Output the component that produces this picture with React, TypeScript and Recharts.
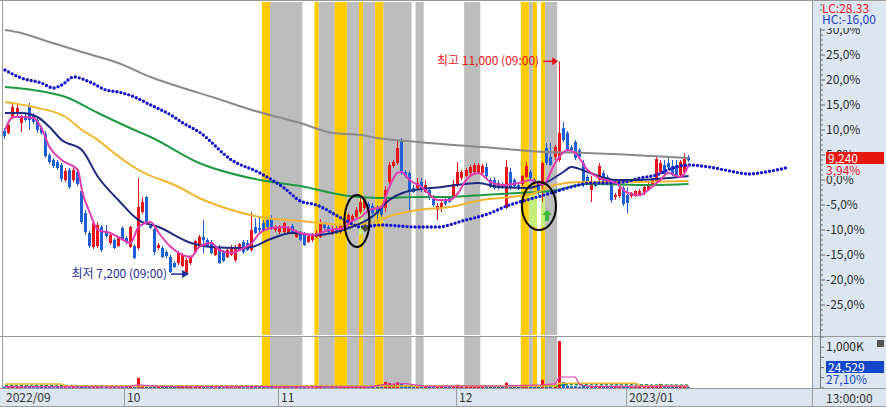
import React from "react";
import {
  Bar,
  ComposedChart,
  Line,
  ReferenceArea,
  ReferenceDot,
  XAxis,
  YAxis,
} from "recharts";

// price bars are stored as % change vs. the reference price (the chart's own right axis)
type Ohlc = [number, number, number, number]; // open, high, low, close
type Pt = [number, number]; // bar slot, value

const sepBars: Ohlc[] = [
  [9.8, 10.4, 8.2, 8.8], [9.4, 11.6, 9.2, 11.0], [12.4, 15.6, 12.2, 14.6], [13.2, 15.2, 12.8, 14.4], [11.4, 13.0, 9.6, 12.4],
  [12.8, 13.6, 11.6, 12.0], [14.8, 15.4, 10.0, 12.0], [12.8, 13.4, 11.2, 11.6], [12.0, 12.6, 9.4, 10.0], [10.4, 10.8, 9.0, 9.4],
  [9.2, 9.8, 4.4, 4.8], [5.0, 5.4, 3.2, 3.6], [4.0, 4.4, 2.4, 2.8], [3.6, 4.0, 2.0, 2.4], [3.0, 3.4, -0.4, 0.2],
  [0.0, 2.4, -0.4, 1.8], [2.0, 2.4, -1.8, -1.4], [0.0, 2.4, -0.4, 2.0], [1.6, 2.0, -1.2, -0.8], [-2.2, -1.6, -8.8, -8.4],
  [-6.6, -6.0, -11.0, -10.4], [-10.6, -10.2, -13.6, -13.2], [-13.4, -8.2, -13.8, -8.6], [-13.2, -8.4, -13.6, -9.0], [-9.4, -9.0, -14.4, -14.0],
  [-10.2, -9.0, -11.6, -11.2], [-12.6, -10.8, -13.0, -11.0], [-12.0, -11.6, -13.8, -13.6], [-13.2, -11.2, -13.4, -11.4], [-9.6, -9.2, -12.0, -11.8],
];

const octBars: Ohlc[] = [
  [-11.6, -11.2, -12.8, -12.4], [-13.4, -9.2, -13.6, -9.4], [-13.2, -12.8, -15.8, -15.6], [-13.6, 0.4, -14.0, -5.4], [-6.4, -3.4, -6.8, -4.4],
  [-3.4, -3.2, -9.0, -8.6], [-9.2, -9.0, -9.8, -9.6], [-9.8, -9.6, -15.0, -14.4], [-13.6, -12.6, -14.0, -13.0], [-13.6, -13.2, -15.6, -15.4],
  [-14.4, -14.0, -15.6, -15.2], [-15.4, -15.0, -18.6, -18.4], [-16.6, -16.2, -17.6, -17.4], [-16.6, -14.2, -17.0, -14.6], [-17.2, -14.6, -17.4, -15.0],
  [-18.6, -15.6, -19.01, -16.0], [-16.6, -15.0, -17.0, -15.6], [-14.4, -12.0, -14.6, -12.2], [-13.4, -11.0, -13.6, -11.4], [-11.4, -8.0, -14.6, -12.0],
  [-12.0, -11.6, -13.4, -13.2], [-12.4, -12.0, -14.8, -14.6], [-15.0, -13.2, -15.2, -13.6], [-13.6, -13.0, -16.8, -16.6], [-14.4, -14.0, -16.4, -16.2],
  [-15.4, -13.6, -15.6, -14.0], [-15.0, -13.0, -15.2, -13.4], [-16.0, -13.0, -16.4, -13.4], [-14.0, -12.6, -14.2, -12.8], [-12.4, -12.0, -14.8, -14.4],
  [-12.6, -12.0, -14.2, -14.0], [-14.0, -6.4, -14.4, -10.0], [-9.4, -7.6, -10.8, -10.6], [-9.6, -7.6, -10.4, -10.0], [-8.6, -8.0, -10.4, -10.2],
  [-8.0, -7.6, -9.6, -9.4], [-7.6, -7.0, -10.0, -9.6], [-10.0, -9.0, -10.4, -9.4],
];

const novBars: Ohlc[] = [
  [-10.4, -9.0, -10.8, -9.4], [-10.4, -8.4, -10.6, -8.6], [-10.6, -9.2, -10.8, -9.6], [-9.2, -8.8, -10.8, -10.6], [-11.4, -10.0, -11.6, -10.4],
  [-10.6, -10.2, -12.2, -12.0], [-10.8, -10.4, -13.2, -13.0], [-12.4, -10.8, -12.6, -11.2], [-12.0, -10.6, -12.4, -11.0], [-11.4, -10.0, -11.6, -10.6],
  [-11.4, -7.8, -11.6, -8.4], [-8.8, -8.4, -10.0, -9.6], [-9.4, -9.0, -10.8, -10.4], [-10.6, -9.2, -11.0, -9.8], [-9.6, -9.2, -10.8, -10.6],
  [-10.4, -8.8, -10.8, -9.2], [-10.0, -8.0, -10.2, -8.4], [-9.0, -6.6, -9.4, -7.0], [-8.0, -6.8, -8.4, -7.2], [-7.4, -5.4, -7.6, -6.0],
  [-6.4, -3.6, -6.8, -4.4], [-5.6, -3.2, -6.0, -3.8], [-4.8, -4.4, -6.8, -6.4], [-5.2, -4.6, -7.0, -6.6], [-5.8, -5.0, -8.4, -6.8],
  [-5.6, -5.0, -7.4, -7.0], [-5.6, -1.2, -6.4, -2.0], [-0.4, 3.6, -0.8, 3.0], [2.8, 4.0, 2.4, 3.6], [3.4, 8.0, 3.0, 6.4],
  [7.8, 8.4, 1.0, 1.4], [1.6, 2.0, 0.4, 0.8], [1.4, 1.8, -6.4, -2.0], [-1.6, -1.0, -2.6, -2.4], [-1.6, 0.4, -2.0, -0.6],
  [-0.4, 0.4, -2.4, -2.0], [-2.4, 0.0, -2.6, -1.0], [-2.0, -1.6, -4.0, -3.6], [-3.8, -3.0, -5.4, -5.0], [-6.0, -4.6, -8.0, -5.2],
  [-5.6, -4.0, -6.4, -4.6], [-3.8, -3.2, -5.2, -4.8], [-3.6, -3.2, -4.6, -4.4], [-3.4, 0.0, -3.6, -0.8],
];

const decBars: Ohlc[] = [
  [-1.0, 3.6, -1.4, 1.6], [0.4, 2.0, 0.0, 1.6], [0.8, 2.4, 0.6, 2.0], [1.4, 3.0, 1.0, 2.6], [1.6, 3.4, 1.2, 3.0],
  [1.4, 3.4, 1.2, 3.0], [1.4, 3.2, 1.0, 2.8], [2.6, 3.4, 0.4, 0.8], [0.0, 0.4, -1.6, -1.4], [0.0, 0.6, -2.0, -1.6],
  [-0.6, 0.0, -2.0, -1.6], [-0.8, -0.4, -1.8, -1.4], [-5.6, 4.0, -5.8, 2.6], [1.6, 2.4, -2.0, -1.6], [0.0, 0.4, -1.6, -1.2],
  [-1.0, -0.6, -2.0, -1.6], [-0.8, 1.0, -1.2, 0.8], [0.6, 3.6, 0.4, 2.8], [1.6, 2.0, 0.0, 0.4], [0.0, 0.4, -0.6, -0.4],
  [-0.6, 0.0, -3.0, -2.6], [-1.0, 3.6, -4.4, 3.4], [6.4, 7.4, 3.0, 3.4], [4.6, 7.4, 2.8, 3.0], [4.6, 7.0, 4.0, 6.6],
  [4.0, 23.73, 3.6, 9.4], [10.4, 11.6, 7.6, 8.0], [9.4, 9.8, 5.4, 6.0], [6.6, 7.0, 5.8, 6.0], [7.6, 8.0, 4.0, 4.4],
  [6.0, 6.4, 4.4, 4.6], [3.4, 4.0, -1.4, -0.6], [0.6, 1.0, -0.6, -0.4], [-2.0, 0.8, -4.4, -0.4], [-0.6, -0.2, -1.4, -1.2],
  [0.0, 3.4, -0.4, 2.8], [1.4, 2.0, -0.6, -0.4], [0.6, 1.0, -0.6, -0.2], [-0.4, 0.0, -4.6, -4.0], [-3.4, -2.6, -4.0, -3.0],
  [-3.2, -1.4, -3.6, -1.8], [-1.6, -1.2, -5.2, -4.8],
];

const janBars: Ohlc[] = [
  [-3.0, -1.4, -6.6, -4.6], [-3.2, -2.4, -3.6, -2.6], [-3.2, -2.0, -3.4, -2.2], [-3.0, -1.8, -3.2, -2.2], [-2.6, -1.2, -3.0, -1.4],
  [-2.0, -0.4, -2.2, -0.8], [-1.2, 0.4, -1.4, 0.0], [-0.2, 4.8, -0.6, 4.2], [1.6, 4.0, 1.2, 3.4], [3.0, 4.0, 0.8, 1.2],
  [3.4, 4.4, 2.0, 2.6], [2.8, 4.0, 0.8, 1.0], [3.0, 4.0, 0.4, 0.6], [1.0, 4.0, 0.6, 3.6], [1.6, 5.4, 1.2, 4.4],
  [4.6, 5.0, 3.6, 3.94],
];

// volume per bar, thousands of shares
const volumes = [
  35, 30, 45, 40, 30, 25, 50, 30, 30, 25, 60, 40, 35, 30, 45, 30, 40, 25, 35, 60, 55, 45, 40, 35, 40, 25, 20, 25, 20, 30,
  25, 30, 25, 250, 70, 45, 30, 40, 25, 30, 25, 40, 30, 25, 30, 35, 25, 30, 25, 30, 20, 25, 20, 25, 20, 25, 20, 20, 25, 20, 20, 65, 30, 25, 20, 20, 25, 20,
  20, 25, 20, 20, 25, 20, 25, 20, 20, 20, 30, 20, 20, 20, 25, 25, 30, 40, 30, 30, 45, 45, 30, 30, 35, 30, 150, 120, 90, 140, 110, 60, 70, 40, 35, 30, 30, 35, 30, 30, 25, 25, 25, 30,
  80, 40, 35, 30, 30, 30, 30, 30, 30, 25, 25, 25, 130, 50, 30, 25, 40, 45, 30, 25, 30, 200, 90, 70, 60, 1150, 150, 60, 40, 45, 35, 50, 40, 30, 35, 30, 45, 30, 25, 25, 25, 30,
  30, 25, 25, 25, 30, 30, 35, 60, 100, 40, 35, 30, 30, 40, 45, 25,
];

const ma5Pts: Pt[] = [
  [0, 10.0], [2, 12.6], [4, 12.6], [7, 12.4], [9, 10.4], [11, 6.6], [14, 4.0], [18, 2.0], [19, -2.0], [21, -6.6],
  [23, -10.0], [26, -10.6], [28, -11.4], [31, -12.6], [33, -9.4], [36, -8.4], [38, -10.6], [41, -13.4], [43, -14.6], [46, -15.4],
  [48, -13.4], [51, -12.6], [53, -14.0], [56, -14.6], [58, -14.0], [61, -12.6], [63, -10.6], [66, -9.6], [69, -9.4], [73, -10.6],
  [76, -11.0], [80, -10.0], [84, -9.6], [85, -8.6], [88, -7.4], [90, -6.0], [93, -5.4], [95, -1.4], [97, 1.4], [98, 1.6],
  [100, 0.0], [103, -1.4], [107, -4.0], [110, -4.0], [112, -2.6], [114, 0.0], [117, 1.4], [118, 1.0], [120, -0.4], [123, -1.0],
  [127, -0.6], [130, 0.0], [133, -1.0], [136, 3.4], [139, 6.0], [141, 5.4], [144, 2.0], [147, 0.4], [151, -0.6], [154, -2.6],
  [157, -3.0], [159, -2.0], [162, 0.0], [164, 1.4], [167, 0.6], [169, 3.0],
];

const ma20Pts: Pt[] = [
  [0, 13.4], [4, 13.4], [8, 12.6], [11, 10.6], [14, 8.0], [19, 6.0], [23, 0.6], [28, -4.0], [33, -8.0], [38, -9.4],
  [46, -12.6], [51, -13.4], [58, -13.6], [61, -13.4], [65, -12.0], [71, -10.6], [77, -11.0], [85, -9.6], [91, -7.2], [95, -4.0],
  [99, -2.4], [108, -1.4], [117, -0.6], [122, -1.4], [129, -1.6], [134, -0.4], [138, 1.6], [140, 2.6], [144, 1.6], [151, 0.0],
  [157, 0.0], [164, 0.4], [169, 0.8],
];

const ma60Pts: Pt[] = [
  [0, 15.6], [7, 14.6], [15, 12.6], [19, 10.0], [23, 8.0], [26, 6.0], [33, 2.0], [43, -1.4], [48, -3.6], [56, -6.0],
  [63, -7.4], [73, -8.2], [85, -9.0], [90, -8.6], [96, -7.0], [102, -6.0], [110, -5.4], [118, -4.0], [125, -3.4], [131, -2.6],
  [136, -1.0], [142, -0.4], [152, -0.4], [169, -0.2],
];

const ma120Pts: Pt[] = [
  [0, 18.6], [7, 18.0], [15, 16.6], [23, 13.4], [32, 10.0], [36, 8.6], [48, 3.4], [63, 0.0], [73, -1.2], [85, -3.2],
  [93, -3.6], [102, -3.4], [110, -3.4], [118, -3.0], [127, -2.6], [135, -2.2], [144, -0.8], [160, -1.0], [169, -0.8],
];

const ma240Pts: Pt[] = [
  [0, 30.0], [4, 29.4], [11, 27.6], [19, 25.6], [28, 23.4], [36, 20.6], [44, 18.4], [52, 16.4], [61, 14.0], [73, 11.4],
  [81, 9.4], [88, 9.0], [92, 8.4], [102, 7.6], [118, 6.6], [134, 5.6], [144, 5.4], [160, 4.8], [169, 4.4],
];

// blue dotted indicator, runs past the last bar
const signalPts: Pt[] = [
  [0, 22.0], [4, 20.4], [9, 19.4], [12, 18.4], [14, 19.0], [17, 20.6], [21, 19.6], [25, 18.0], [28, 17.6], [32, 16.6],
  [36, 15.0], [41, 13.0], [44, 11.4], [48, 9.6], [56, 4.0], [63, 1.4], [69, -1.6], [73, -4.2], [77, -5.0], [84, -8.0],
  [88, -9.4], [93, -9.0], [102, -9.4], [107, -9.4], [113, -8.2], [120, -6.6], [124, -5.2], [129, -4.0], [135, -2.6], [140, -1.4],
  [145, -0.6], [149, -0.6], [153, -0.4], [157, 0.4], [161, 1.0], [165, 2.4], [169, 3.0], [174, 2.6], [178, 2.0], [184, 1.2],
  [188, 1.6], [193, 2.4],
];

const volMa5Pts: Pt[] = [
  [0, 35], [30, 30], [33, 80], [38, 40], [90, 30], [94, 90], [99, 110], [104, 40], [112, 45], [124, 50],
  [133, 80], [136, 100], [137, 270], [141, 270], [142, 80], [145, 40], [169, 45],
];
const volMa20Pts: Pt[] = [[0, 95], [14, 95], [15, 50], [136, 50], [137, 115], [156, 115], [157, 50], [169, 50]];
const volMa60Pts: Pt[] = [[0, 60], [50, 55], [136, 40], [138, 80], [169, 75]];

const yellowBands: Pt[] = [[64, 65], [77, 77], [82, 84], [88, 88], [92, 93], [128, 129], [131, 131], [133, 133]];
const grayBands: Pt[] = [[66, 73], [78, 81], [85, 87], [89, 91], [94, 100], [102, 103], [114, 117], [130, 130], [134, 136]];

const monthTicks = [0, 30, 68, 112, 154];
const monthLabels = ["2022/09", "10", "11", "12", "2023/01"];
const pctLabels = [-25, -20, -15, -10, -5, 0, 5, 10, 15, 20, 25, 30];
const volTicks = [0, 250, 500, 750, 1000, 1250];

const SLOTS = 200;
const UP = "#e8141c";
const DOWN = "#1f5fd6";
const AXIS_BG = "#dce6f0";
const FRAME = "#9a9a9a";
const FONT = '"Noto Sans CJK KR", "Noto Sans", sans-serif';

const bars = [...sepBars, ...octBars, ...novBars, ...decBars, ...janBars];
const lookup = (pts: Pt[]) => new Map(pts);
const series = {
  ma5: lookup(ma5Pts),
  ma20: lookup(ma20Pts),
  ma60: lookup(ma60Pts),
  ma120: lookup(ma120Pts),
  ma240: lookup(ma240Pts),
  signal: lookup(signalPts),
  vma5: lookup(volMa5Pts),
  vma20: lookup(volMa20Pts),
  vma60: lookup(volMa60Pts),
};

const rows = Array.from({ length: SLOTS }, (_, i) => {
  const b = bars[i];
  const row: any = { idx: i };
  if (b) {
    row.o = b[0];
    row.h = b[1];
    row.l = b[2];
    row.c = b[3];
    row.range = [b[2], b[1]];
    row.vol = volumes[i];
  }
  for (const [k, m] of Object.entries(series)) row[k] = m.has(i) ? m.get(i) : null;
  return row;
});

const pctMinorTicks = Array.from({ length: 66 }, (_, k) => k - 30);
const fmtPct = (v: number) => `${v.toFixed(1).replace(".", ",")}%`;

function Candle(props: any) {
  const { x, y, width, height, payload } = props;
  if (!payload || payload.o == null) return null;
  const { o, h, l, c } = payload;
  const top = Math.min(y, y + height);
  const hgt = Math.abs(height);
  const span = h - l || 1;
  const py = (v: number) => top + ((h - v) / span) * hgt;
  const cx = Math.floor(x + width / 2);
  const color = c >= o ? UP : DOWN;
  const bTop = py(Math.max(o, c));
  const bBot = py(Math.min(o, c));
  return (
    <g>
      <line x1={cx + 0.5} x2={cx + 0.5} y1={top} y2={top + hgt} stroke={color} strokeWidth={1} />
      <rect x={cx - 1} y={bTop} width={3} height={Math.max(1, bBot - bTop)} fill={color} />
    </g>
  );
}

function VolBar(props: any) {
  const { x, y, width, height, payload } = props;
  if (!payload || payload.o == null) return null;
  const cx = Math.floor(x + width / 2);
  return <rect x={cx - 1} y={y} width={3} height={Math.max(1, height)} fill={payload.c >= payload.o ? UP : DOWN} />;
}

function PctTick({ x, y, payload }: any) {
  const v = payload.value;
  const major = pctLabels.includes(v);
  return (
    <g>
      <line x1={x + 8} x2={x + (major ? 13 : 11)} y1={y} y2={y} stroke="#666" />
      {major && (
        <text x={x + 14} y={y + 4} fontSize={12} fill="#2a2a2a" fontFamily={FONT}>
          {fmtPct(v)}
        </text>
      )}
    </g>
  );
}

function VolTick({ x, y, payload }: any) {
  const v = payload.value;
  return (
    <g>
      <line x1={x + 8} x2={x + 12} y1={y} y2={y} stroke="#666" />
      {v === 1000 && (
        <text x={x + 14} y={y + 4} fontSize={12} fill="#2a2a2a" fontFamily={FONT}>
          1,000K
        </text>
      )}
    </g>
  );
}

function MonthTick({ x, y, payload }: any) {
  const k = monthTicks.indexOf(payload.value);
  const xs = Math.round(x - 2);
  return (
    <g>
      {k > 0 && <line x1={xs + 0.5} x2={xs + 0.5} y1={y} y2={y + 19} stroke={FRAME} />}
      <text x={xs + 3} y={y + 14} fontSize={12} fill="#333" fontFamily={FONT}>
        {monthLabels[k]}
      </text>
    </g>
  );
}

function PeakLabel({ cx, cy }: any) {
  return (
    <g>
      <text x={cx - 20} y={cy + 4} textAnchor="end" fontSize={12} fill={UP} fontFamily={FONT}>
        최고 11,000 (09:00)
      </text>
      <line x1={cx - 16} x2={cx - 6} y1={cy} y2={cy} stroke={UP} strokeWidth={1.5} />
      <polygon points={`${cx - 1},${cy} ${cx - 7},${cy - 4} ${cx - 7},${cy + 4}`} fill={UP} />
    </g>
  );
}

function TroughLabel({ cx, cy }: any) {
  const col = "#1c2f9c";
  return (
    <g>
      <text x={cx - 20} y={cy + 3} textAnchor="end" fontSize={12} fill={col} fontFamily={FONT}>
        최저 7,200 (09:00)
      </text>
      <line x1={cx - 16} x2={cx - 4} y1={cy - 1} y2={cy - 1} stroke={col} strokeWidth={1.5} />
      <polygon points={`${cx + 2},${cy - 1} ${cx - 5},${cy - 5} ${cx - 5},${cy + 3}`} fill={col} />
    </g>
  );
}

const ellipse = (rx: number, ry: number) => (p: any) => (
  <ellipse cx={p.cx} cy={p.cy} rx={rx} ry={ry} fill="none" stroke="#000" strokeWidth={2} />
);

function UpArrow({ cx, cy }: any) {
  return (
    <polygon
      points={`${cx},${cy - 6} ${cx + 5},${cy - 1} ${cx + 2},${cy - 1} ${cx + 2},${cy + 5} ${cx - 2},${cy + 5} ${cx - 2},${cy - 1} ${cx - 5},${cy - 1}`}
      fill="#3cb83c"
    />
  );
}

function DarkMark({ cx, cy }: any) {
  return <polygon points={`${cx - 4},${cy} ${cx},${cy - 4} ${cx + 4},${cy} ${cx},${cy + 4}`} fill="#4a4a3a" />;
}

const bandAreas = (withY: boolean) => [
  ...grayBands.map(([a, b]) => (
    <ReferenceArea key={`g${a}`} x1={a} x2={b} fill="#bdbdbd" fillOpacity={1} stroke="none" ifOverflow="extendDomain" />
  )),
  ...yellowBands.map(([a, b]) => (
    <ReferenceArea key={`y${a}`} x1={a} x2={b} fill="#ffcc00" fillOpacity={1} stroke="none" ifOverflow="extendDomain" />
  )),
  ...(withY
    ? [
        <ReferenceArea key="hl1" x1={88} x2={88} y1={-11} y2={-3.4} fill="#c6ee7a" fillOpacity={1} stroke="none" />,
        <ReferenceArea key="hl2" x1={130} x2={131} y1={-9.4} y2={-2.6} fill="#c6ee7a" fillOpacity={1} stroke="none" />,
        <ReferenceArea key="hl3" x1={133} x2={133} y1={-9.4} y2={-2.6} fill="#c6ee7a" fillOpacity={1} stroke="none" />,
      ]
    : []),
];

const lineProps = { dot: false, connectNulls: true, isAnimationActive: false, activeDot: false } as const;

const hline = (top: number, left = 0, width = 886): React.CSSProperties => ({
  position: "absolute", top, left, width, height: 1, background: FRAME,
});
const vline = (left: number, top: number, height: number, color = FRAME): React.CSSProperties => ({
  position: "absolute", top, left, width: 1, height, background: color,
});
const txt = (left: number, top: number, color: string, extra: React.CSSProperties = {}): React.CSSProperties => ({
  position: "absolute", left, top, color, fontSize: 12, lineHeight: "12px", whiteSpace: "nowrap", ...extra,
});

export default function App() {
  return (
    <div style={{ position: "absolute", left: 0, top: 0, width: 886, height: 407, background: "#fff", fontFamily: FONT, overflow: "hidden" }}>
      <div style={{ position: "absolute", left: 812, top: 0, width: 74, height: 407, background: AXIS_BG }} />
      <div style={{ position: "absolute", left: 0, top: 388, width: 886, height: 19, background: AXIS_BG }} />

      <div style={{ position: "absolute", left: 0, top: 0 }}>
        <ComposedChart width={886} height={336} data={rows} margin={{ top: 2, right: 0, bottom: 1, left: 3 }}>
          <XAxis dataKey="idx" type="category" hide />
          <YAxis
            orientation="right"
            width={74}
            domain={[-31, 35.6]}
            allowDataOverflow
            ticks={pctMinorTicks}
            interval={0}
            tick={<PctTick />}
            tickLine={false}
            axisLine={false}
            tickSize={0}
            tickMargin={0}
          />
          {bandAreas(true)}
          <Line dataKey="ma240" stroke="#8a8a8a" strokeWidth={2} type="monotone" {...lineProps} />
          <Line dataKey="ma120" stroke="#1f9a44" strokeWidth={2} type="monotone" {...lineProps} />
          <Line dataKey="ma60" stroke="#f2b530" strokeWidth={2} type="monotone" {...lineProps} />
          <Line dataKey="signal" stroke="#1414cc" strokeWidth={3.4} strokeDasharray="0 4.05" strokeLinecap="round" type="monotone" {...lineProps} />
          <Line dataKey="ma20" stroke="#1c2a80" strokeWidth={2} type="monotone" {...lineProps} />
          <Line dataKey="ma5" stroke="#e03cb0" strokeWidth={2} type="monotone" {...lineProps} />
          <Bar dataKey="range" shape={(p: any) => <Candle {...p} />} isAnimationActive={false} />
          <ReferenceDot x={89} y={-9.6} r={4} shape={(p: any) => <DarkMark {...p} />} />
          <ReferenceDot x={134} y={-7.2} r={4} shape={(p: any) => <UpArrow {...p} />} />
          <ReferenceDot x={87} y={-8.2} r={10} shape={ellipse(12.5, 26)} />
          <ReferenceDot x={132} y={-5.2} r={10} shape={ellipse(17, 24)} />
          <ReferenceDot x={137} y={23.73} r={2} shape={(p: any) => <PeakLabel {...p} />} />
          <ReferenceDot x={45} y={-19.01} r={2} shape={(p: any) => <TroughLabel {...p} />} />
        </ComposedChart>
      </div>

      <div style={{ position: "absolute", left: 0, top: 336 }}>
        <ComposedChart width={886} height={71} data={rows} margin={{ top: 1, right: 0, bottom: 0, left: 3 }}>
          <XAxis
            dataKey="idx"
            type="category"
            height={19}
            ticks={monthTicks}
            interval={0}
            tick={<MonthTick />}
            tickLine={false}
            axisLine={false}
            tickSize={0}
            tickMargin={0}
          />
          <YAxis
            orientation="right"
            width={74}
            domain={[0, 1250]}
            allowDataOverflow
            ticks={volTicks}
            interval={0}
            tick={<VolTick />}
            tickLine={false}
            axisLine={false}
            tickSize={0}
            tickMargin={0}
          />
          {bandAreas(false)}
          <Bar dataKey="vol" shape={(p: any) => <VolBar {...p} />} isAnimationActive={false} />
          <Line dataKey="vma60" stroke="#1f9a44" strokeWidth={1.5} strokeDasharray="3 2" type="linear" {...lineProps} />
          <Line dataKey="vma20" stroke="#e8b830" strokeWidth={1.5} type="linear" {...lineProps} />
          <Line dataKey="vma5" stroke="#e03cb0" strokeWidth={1.2} type="linear" {...lineProps} />
        </ComposedChart>
      </div>

      {/* frame */}
      <div style={hline(0)} />
      <div style={hline(336)} />
      <div style={hline(388)} />
      <div style={hline(406)} />
      <div style={vline(2, 0, 388)} />
      <div style={vline(812, 0, 407)} />
      <div style={vline(820, 28, 360, "#777")} />

      {/* right-side readouts */}
      <div style={txt(822, 2, "#e0141c", { background: AXIS_BG, height: 11 })}>LC:28,33</div>
      <div style={txt(820, 13, "#1a3cc8", { background: AXIS_BG, height: 15, width: 66, paddingLeft: 2 })}>HC:-16,00</div>
      <div style={txt(826, 152, "#fff", { background: "#e8170f", width: 56, height: 12, paddingLeft: 2 })}>9,240</div>
      <div style={txt(826, 164, "#e0141c", { background: AXIS_BG, width: 58, height: 12 })}>3,94%</div>
      <div style={txt(826, 361, "#fff", { background: "#1446c8", width: 56, height: 12, paddingLeft: 2 })}>24,529</div>
      <div style={txt(826, 373, "#1446c8", { background: AXIS_BG, width: 58, height: 12 })}>27,10%</div>
      <div style={{ position: "absolute", left: 877, top: 340, width: 7, height: 7, background: "#555" }} />
      <div style={txt(826, 392, "#333")}>13:00:00</div>
    </div>
  );
}
